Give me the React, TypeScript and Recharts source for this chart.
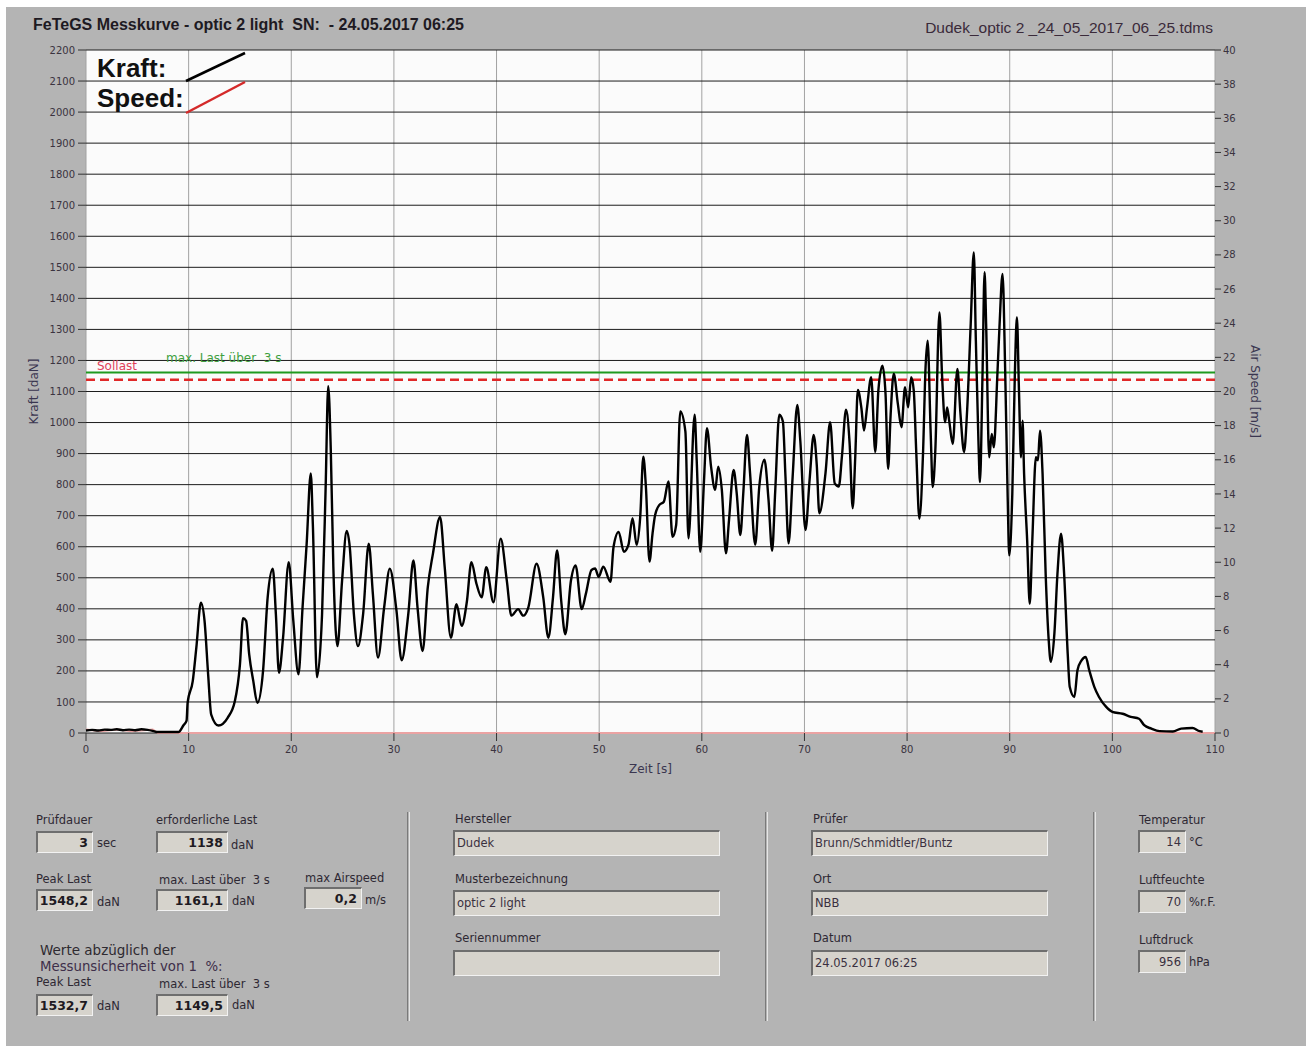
import React from 'react';
import { LineChart, Line, XAxis, YAxis, CartesianGrid, ReferenceLine } from 'recharts';

// Messkurve: Zeit [s] und Kraft [daN]
const zeit = [
  0, 0.6, 1.2, 1.8, 2.4, 3.0, 3.6, 4.2, 4.8, 5.4, 6.0, 6.6, 7.0, 8.0, 9.0, 9.5, 9.8,
  9.9, 10.4, 10.75, 11.2, 11.55, 11.9, 12.2, 12.9, 13.8, 14.5, 15.0, 15.3, 15.6, 15.9, 16.3, 16.7,
  17.25, 17.7, 18.2, 18.5, 18.8, 19.2, 19.75, 20.2, 20.7, 21.1, 21.5, 21.9, 22.1, 22.5, 23.0, 23.35,
  23.6, 23.85, 24.1, 24.5, 24.95, 25.4, 25.7, 26.1, 26.5, 27.0, 27.55, 27.95, 28.45, 29.05, 29.6, 30.25,
  30.75, 31.4, 31.9, 32.3, 32.8, 33.3, 33.8, 34.5, 34.95, 35.55, 36.1, 36.6, 37.1, 37.55, 38.05, 38.55,
  39.0, 39.7, 40.4, 41.0, 41.45, 42.1, 42.6, 43.1, 43.9, 44.55, 45.05, 45.5, 45.9, 46.3, 46.7, 47.25,
  47.7, 48.3, 48.7, 49.25, 49.6, 49.95, 50.4, 51.1, 51.4, 51.9, 52.4, 52.85, 53.25, 53.65, 54.0, 54.3,
  54.55, 54.9, 55.2, 55.45, 55.85, 56.3, 56.75, 57.15, 57.5, 57.9, 58.4, 58.7, 59.3, 59.5, 59.85, 60.2,
  60.5, 60.9, 61.3, 61.6, 61.95, 62.35, 62.65, 63.1, 63.4, 63.75, 64.05, 64.4, 64.7, 65.2, 65.6, 66.1,
  66.5, 66.85, 67.15, 67.55, 67.9, 68.15, 68.45, 68.85, 69.3, 69.6, 70.1, 70.5, 70.9, 71.2, 71.45, 72.05,
  72.5, 72.95, 73.35, 73.65, 74.05, 74.4, 74.7, 74.95, 75.2, 75.55, 75.8, 76.1, 76.5, 76.9, 77.2, 77.6,
  77.9, 78.15, 78.4, 78.7, 79.1, 79.45, 79.8, 80.1, 80.4, 80.65, 80.9, 81.2, 81.55, 81.8, 82.0, 82.3,
  82.5, 82.75, 83.15, 83.4, 83.7, 83.9, 84.1, 84.45, 84.9, 85.2, 85.55, 85.85, 86.2, 86.5, 86.7, 86.95,
  87.1, 87.35, 87.55, 87.7, 88.0, 88.25, 88.45, 88.8, 89.0, 89.3, 89.55, 89.8, 89.95, 90.25, 90.5, 90.7,
  90.9, 91.1, 91.25, 91.4, 91.7, 91.95, 92.2, 92.55, 92.75, 92.95, 93.2, 93.5, 93.8, 94.0, 94.35, 94.65,
  95.0, 95.3, 95.65, 95.85, 96.3, 96.6, 97.0, 97.4, 97.75, 98.25, 98.7, 99.4, 100.0, 101.0, 101.8, 102.6,
  103.1, 103.8, 104.6, 105.9, 106.7, 107.8, 108.5, 108.8,
];

const kraft = [
  8, 10, 8, 11, 10, 12, 9, 11, 9, 12, 10, 6, 3, 3, 3, 25, 40,
  97, 167, 275, 420, 361, 189, 59, 24, 49, 102, 221, 370, 361, 253, 167, 97,
  200, 437, 529, 383, 194, 307, 550, 361, 189, 405, 610, 836, 674, 180, 383, 793,
  1117, 911, 534, 280, 491, 651, 599, 383, 280, 383, 610, 448, 243, 405, 529, 394,
  234, 383, 556, 405, 264, 469, 577, 696, 534, 307, 415, 345, 421, 550, 480, 437,
  534, 421, 626, 491, 378, 399, 378, 405, 545, 437, 307, 437, 588, 426, 318, 491,
  540, 399, 448, 525, 530, 503, 536, 487, 600, 648, 584, 606, 692, 606, 697, 890,
  794, 552, 643, 702, 734, 745, 810, 632, 670, 1036, 971, 627, 1025, 880, 584, 804,
  982, 858, 783, 858, 783, 579, 686, 847, 772, 638, 778, 960, 837, 606, 794, 880,
  751, 587, 778, 1025, 1003, 826, 611, 826, 1057, 939, 654, 815, 960, 863, 708, 837,
  1001, 804, 794, 890, 1041, 933, 724, 890, 1105, 1046, 974, 1049, 1146, 905, 1103, 1183,
  1092, 851, 1028, 1157, 1060, 985, 1114, 1049, 1146, 1103, 899, 690, 899, 1178, 1264, 965,
  792, 910, 1355, 1157, 1001, 1049, 1006, 931, 1173, 1028, 905, 1039, 1318, 1548, 1264, 942,
  808, 1157, 1484, 1318, 888, 963, 920, 1157, 1307, 1479, 1178, 760, 572, 770, 1157, 1339,
  1103, 888, 1006, 835, 620, 416, 620, 888, 878, 974, 835, 513, 298, 229, 320, 513,
  642, 513, 255, 148, 116, 202, 234, 245, 202, 148, 116, 84, 68, 62, 52, 46,
  25, 14, 6, 5, 14, 16, 6, 4,
];

// Air Speed [m/s]
const speedZeit = [0, 1.5, 3, 4.5, 6.5, 7, 110];
const speed = [0.2, 0.1, 0.2, 0.1, 0.2, 0, 0];

const zeitTicks = [0, 10, 20, 30, 40, 50, 60, 70, 80, 90, 100, 110];
const kraftTicks = [0, 100, 200, 300, 400, 500, 600, 700, 800, 900, 1000, 1100, 1200, 1300, 1400, 1500, 1600, 1700, 1800, 1900, 2000, 2100, 2200];
const speedTicks = [0, 2, 4, 6, 8, 10, 12, 14, 16, 18, 20, 22, 24, 26, 28, 30, 32, 34, 36, 38, 40];

const sollLast = 1138;
const maxLast3s = 1161.1;

const kraftData = zeit.map((t, i) => ({ t, kraft: kraft[i] }));
const speedData = speedZeit.map((t, i) => ({ t, speed: speed[i] }));

const FONT = '"DejaVu Sans", sans-serif';
const TXT = '#2e2833';
const tickStyle = { fontSize: 10, fill: '#3a3340', fontFamily: FONT };

const Txt = ({ x, y, children, size = 11.5, color = TXT, bold = false, anchor = 'left', family = FONT }: any) => (
  <div
    style={{
      position: 'absolute',
      left: anchor === 'left' ? x : undefined,
      right: anchor === 'right' ? 1312 - x : undefined,
      top: y - 8,
      height: 16,
      lineHeight: '16px',
      fontSize: size,
      fontFamily: family,
      fontWeight: bold ? 'bold' : 'normal',
      color,
      whiteSpace: 'pre',
    }}
  >
    {children}
  </div>
);

const Box = ({ x, y, w, h, value = '', bold = false, align = 'right' }: any) => (
  <div
    style={{
      position: 'absolute',
      left: x,
      top: y,
      width: w,
      height: h,
      boxSizing: 'border-box',
      background: '#d6d3cc',
      borderTop: '2px solid #6e6e6e',
      borderLeft: '2px solid #6e6e6e',
      borderBottom: '1px solid #f2f2f2',
      borderRight: '1px solid #f2f2f2',
      fontFamily: FONT,
      fontSize: bold ? 12.5 : 11.5,
      fontWeight: bold ? 'bold' : 'normal',
      color: bold ? '#1e1a22' : '#3a3040',
      textAlign: align,
      lineHeight: `${h - 3}px`,
      padding: align === 'right' ? '0 4px 0 0' : '0 0 0 2px',
      whiteSpace: 'pre',
    }}
  >
    {value}
  </div>
);

const Sep = ({ x }: any) => (
  <div
    style={{
      position: 'absolute',
      left: x,
      top: 812,
      width: 1,
      height: 209,
      borderLeft: '1px solid #7a7a7a',
      borderRight: '1px solid #e6e6e6',
    }}
  />
);

const refLabel = (text: string, color: string, dx: number, dy: number) => (props: any) => {
  const vb = props.viewBox || { x: 86, y: 0 };
  return (
    <text x={vb.x + dx} y={vb.y + dy} fill={color} fontSize={12} fontFamily={FONT} style={{ whiteSpace: 'pre' }}>
      {text}
    </text>
  );
};

const axisTitle = (text: string, side: 'left' | 'right') => (props: any) => {
  const vb = props.viewBox || { x: 0, y: 50, width: 86, height: 683 };
  const x = side === 'left' ? vb.x + 34 : vb.x + 40;
  const y = vb.y + vb.height / 2;
  return (
    <text
      x={x}
      y={y}
      transform={`rotate(${side === 'left' ? -90 : 90} ${x} ${y})`}
      textAnchor="middle"
      dominantBaseline="central"
      fill="#3a3650"
      fontSize={12}
      fontFamily={FONT}
    >
      {text}
    </text>
  );
};

export default function App() {
  return (
    <div style={{ position: 'absolute', left: 0, top: 0, width: 1312, height: 1052, background: '#ffffff', overflow: 'hidden' }}>
      <div style={{ position: 'absolute', left: 6, top: 7, width: 1300, height: 1039, background: '#b4b4b4' }} />

      <Txt x={33} y={25} size={16} bold family='"Liberation Sans", Arial, sans-serif' color="#1e1a22">
        {'FeTeGS Messkurve - optic 2 light  SN:  - 24.05.2017 06:25'}
      </Txt>
      <Txt x={1213} y={28} size={15.5} anchor="right" family='"Liberation Sans", Arial, sans-serif' color="#3a2a3a">
        {'Dudek_optic 2 _24_05_2017_06_25.tdms'}
      </Txt>

      <div style={{ position: 'absolute', left: 0, top: 0 }}>
        <LineChart width={1312} height={790} margin={{ top: 50, right: 37, bottom: 10, left: 0 }}>
          <CartesianGrid yAxisId="kraft" horizontal={false} stroke="#a2a2a2" fill="#fbfbfb" />
          <CartesianGrid yAxisId="kraft" vertical={false} stroke="#1c1c1c" />
          <XAxis
            dataKey="t"
            type="number"
            domain={[0, 110]}
            ticks={zeitTicks}
            interval={0}
            axisLine={false}
            tickSize={8}
            tickMargin={5}
            tick={tickStyle}
            tickLine={{ stroke: '#333' }}
            height={47}
            label={{ value: 'Zeit [s]', position: 'insideTop', offset: 31, fill: '#3a3650', fontSize: 12, fontFamily: FONT }}
          />
          <YAxis
            yAxisId="kraft"
            domain={[0, 2200]}
            ticks={kraftTicks}
            interval={0}
            width={86}
            axisLine={false}
            tickSize={8}
            tickMargin={3}
            tick={tickStyle}
            tickLine={{ stroke: '#333' }}
            label={{ content: axisTitle('Kraft [daN]', 'left') }}
          />
          <YAxis
            yAxisId="speed"
            orientation="right"
            domain={[0, 40]}
            ticks={speedTicks}
            interval={0}
            width={60}
            axisLine={false}
            tickSize={6}
            tickMargin={2}
            tick={tickStyle}
            tickLine={{ stroke: '#333' }}
            label={{ content: axisTitle('Air Speed [m/s]', 'right') }}
          />
          <ReferenceLine
            yAxisId="kraft"
            y={maxLast3s}
            stroke="#1f9a1f"
            strokeWidth={2}
            label={{ content: refLabel('max. Last über  3 s', '#3f9f3f', 80, -11) }}
          />
          <ReferenceLine
            yAxisId="kraft"
            y={sollLast}
            stroke="#e02828"
            strokeWidth={2.5}
            strokeDasharray="9 5"
            label={{ content: refLabel('Sollast', '#e0405a', 11, -10) }}
          />
          <Line
            data={speedData}
            yAxisId="speed"
            dataKey="speed"
            type="linear"
            stroke="#eba3a3"
            strokeWidth={2}
            dot={false}
            isAnimationActive={false}
          />
          <Line
            data={kraftData}
            yAxisId="kraft"
            dataKey="kraft"
            type="monotone"
            stroke="#000000"
            strokeWidth={2.4}
            dot={false}
            isAnimationActive={false}
          />
        </LineChart>
      </div>

      {/* Legende oben links */}
      <svg style={{ position: 'absolute', left: 0, top: 0, pointerEvents: 'none' }} width={1312} height={130}>
        <text x={97} y={77} fontSize={26} fontWeight="bold" fontFamily='"Liberation Sans", Arial, sans-serif' fill="#111">Kraft:</text>
        <text x={97} y={107} fontSize={26} fontWeight="bold" fontFamily='"Liberation Sans", Arial, sans-serif' fill="#111">Speed:</text>
        <line x1={186} y1={81} x2={245} y2={53} stroke="#000" strokeWidth={2.5} />
        <line x1={186} y1={113} x2={245} y2={82} stroke="#d42a2a" strokeWidth={2.5} />
      </svg>

      {/* Abschnitt 1 */}
      <Txt x={36} y={820}>Prüfdauer</Txt>
      <Box x={36} y={831} w={57} h={22} value="3" bold />
      <Txt x={97} y={843}>sec</Txt>
      <Txt x={156} y={820}>erforderliche Last</Txt>
      <Box x={156} y={831} w={72} h={22} value="1138" bold />
      <Txt x={231} y={845}>daN</Txt>

      <Txt x={36} y={879}>Peak Last</Txt>
      <Box x={36} y={889} w={57} h={22} value="1548,2" bold />
      <Txt x={97} y={902}>daN</Txt>
      <Txt x={159} y={880}>{'max. Last über  3 s'}</Txt>
      <Box x={156} y={889} w={72} h={22} value="1161,1" bold />
      <Txt x={232} y={901}>daN</Txt>
      <Txt x={305} y={878}>max Airspeed</Txt>
      <Box x={304} y={887} w={58} h={22} value="0,2" bold />
      <Txt x={365} y={900}>m/s</Txt>

      <Txt x={40} y={950} size={13.5} color="#2e2a30">Werte abzüglich der</Txt>
      <Txt x={40} y={967} size={13.3} color="#3e2f4a">{'Messunsicherheit von 1  %:'}</Txt>
      <Txt x={36} y={982}>Peak Last</Txt>
      <Box x={36} y={994} w={57} h={22} value="1532,7" bold />
      <Txt x={97} y={1006}>daN</Txt>
      <Txt x={159} y={984}>{'max. Last über  3 s'}</Txt>
      <Box x={156} y={994} w={72} h={22} value="1149,5" bold />
      <Txt x={232} y={1005}>daN</Txt>

      <Sep x={407} />
      <Sep x={765} />
      <Sep x={1093} />

      {/* Abschnitt 2 */}
      <Txt x={455} y={819}>Hersteller</Txt>
      <Box x={453} y={830} w={267} h={26} value="Dudek" align="left" />
      <Txt x={455} y={879}>Musterbezeichnung</Txt>
      <Box x={453} y={890} w={267} h={26} value="optic 2 light" align="left" />
      <Txt x={455} y={938}>Seriennummer</Txt>
      <Box x={453} y={950} w={267} h={26} value="" align="left" />

      {/* Abschnitt 3 */}
      <Txt x={813} y={819}>Prüfer</Txt>
      <Box x={811} y={830} w={237} h={26} value="Brunn/Schmidtler/Buntz" align="left" />
      <Txt x={813} y={879}>Ort</Txt>
      <Box x={811} y={890} w={237} h={26} value="NBB" align="left" />
      <Txt x={813} y={938}>Datum</Txt>
      <Box x={811} y={950} w={237} h={26} value="24.05.2017 06:25" align="left" />

      {/* Abschnitt 4 */}
      <Txt x={1139} y={820}>Temperatur</Txt>
      <Box x={1138} y={830} w={48} h={23} value="14" />
      <Txt x={1189} y={842}>°C</Txt>
      <Txt x={1139} y={880}>Luftfeuchte</Txt>
      <Box x={1138} y={890} w={48} h={23} value="70" />
      <Txt x={1189} y={902}>%r.F.</Txt>
      <Txt x={1139} y={940}>Luftdruck</Txt>
      <Box x={1138} y={950} w={48} h={23} value="956" />
      <Txt x={1189} y={962}>hPa</Txt>
    </div>
  );
}
